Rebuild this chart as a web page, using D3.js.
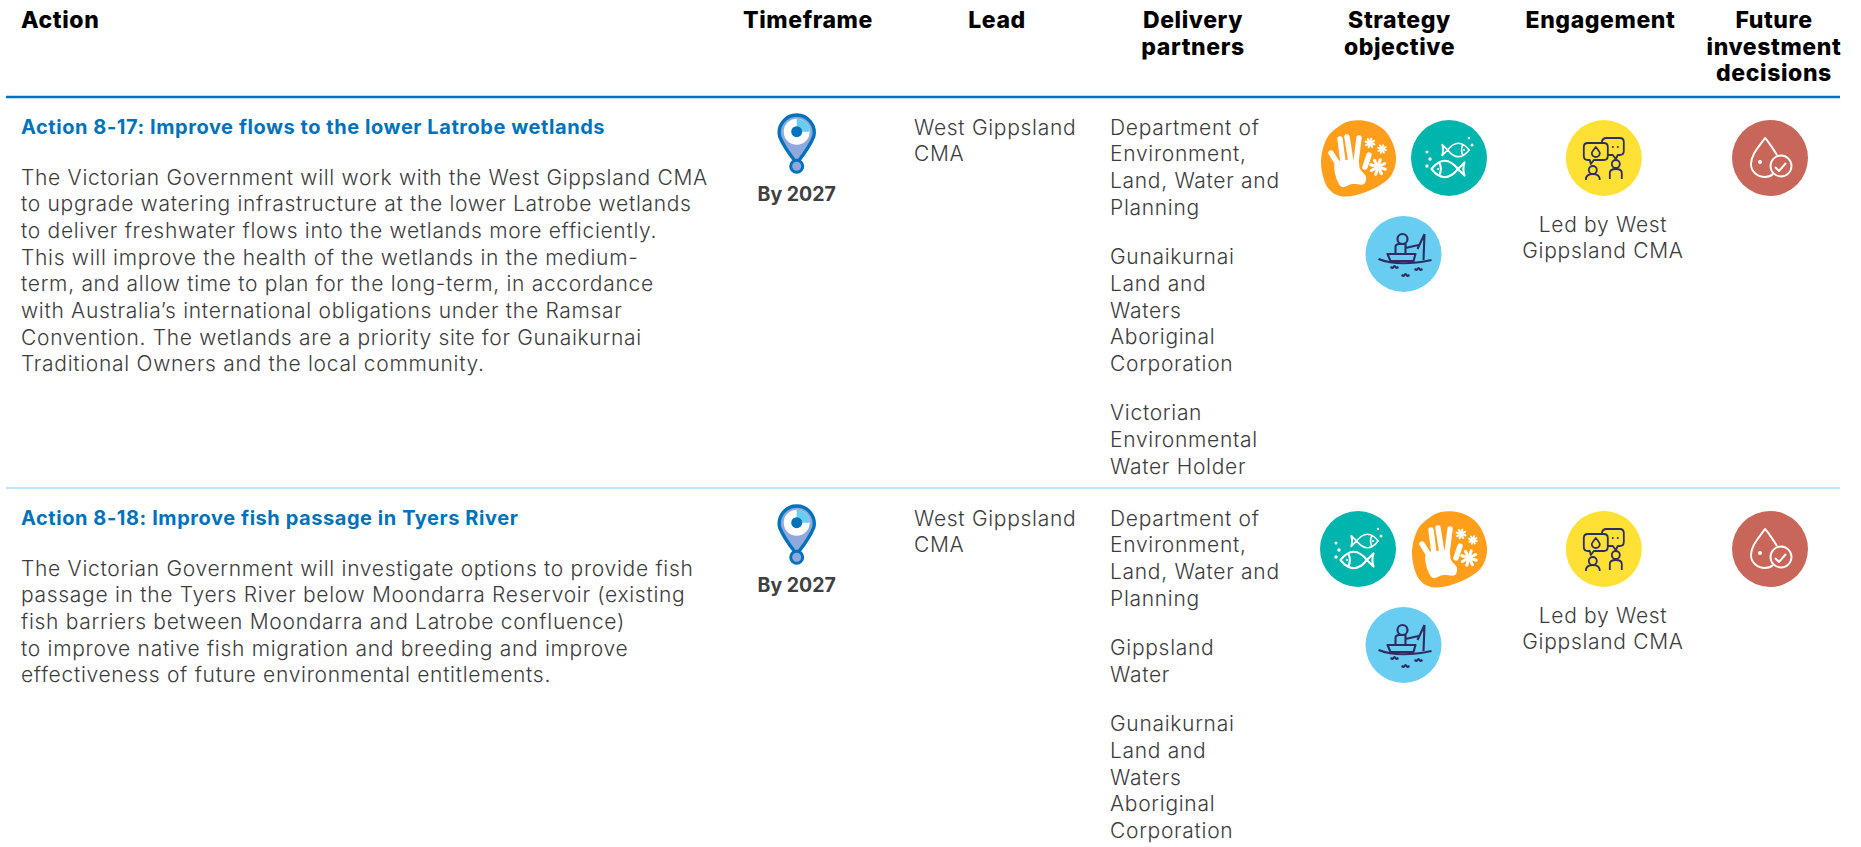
<!DOCTYPE html>
<html>
<head>
<meta charset="utf-8">
<script src="https://cdnjs.cloudflare.com/ajax/libs/d3/7.8.5/d3.min.js"></script>
<style>
	html, body { margin: 0; padding: 0; background: #ffffff; }
	svg { display: block; }
	text { font-family: Inter, "Open Sans", sans-serif; }
	.head { font-size: 23px; font-weight: 800; fill: #000000; letter-spacing: 0.6px; }
	.title { font-size: 20px; font-weight: 700; fill: #0072bc; letter-spacing: 0.56px; }
	.body { font-size: 21px; font-weight: 300; fill: #3c3c3c; letter-spacing: 0.7px; }
	.when { font-size: 19.5px; font-weight: 700; fill: #404040; }
</style>
</head>
<body>
<div id="svg-wrapper"></div>
<script>
var columns = [ 'Action', 'Timeframe', 'Lead', 'Delivery partners', 'Strategy objective', 'Engagement', 'Future investment decisions' ];

var headLabels = [
	[ 'Action' ],
	[ 'Timeframe' ],
	[ 'Lead' ],
	[ 'Delivery', 'partners' ],
	[ 'Strategy', 'objective' ],
	[ 'Engagement' ],
	[ 'Future', 'investment', 'decisions' ]
];

var rowIds = [ 'Action 8-17', 'Action 8-18' ];

var titles = [
	'Action 8-17: Improve flows to the lower Latrobe wetlands',
	'Action 8-18: Improve fish passage in Tyers River'
];

var descriptions = [
	[
		'The Victorian Government will work with the West Gippsland CMA',
		'to upgrade watering infrastructure at the lower Latrobe wetlands',
		'to deliver freshwater flows into the wetlands more efficiently.',
		'This will improve the health of the wetlands in the medium-',
		'term, and allow time to plan for the long-term, in accordance',
		'with Australia\u2019s international obligations under the Ramsar',
		'Convention. The wetlands are a priority site for Gunaikurnai',
		'Traditional Owners and the local community.'
	],
	[
		'The Victorian Government will investigate options to provide fish',
		'passage in the Tyers River below Moondarra Reservoir (existing',
		'fish barriers between Moondarra and Latrobe confluence)',
		'to improve native fish migration and breeding and improve',
		'effectiveness of future environmental entitlements.'
	]
];

var timeframes = [ 'By 2027', 'By 2027' ];

var leads = [ [ 'West Gippsland', 'CMA' ], [ 'West Gippsland', 'CMA' ] ];

var partners = [
	[
		[ 'Department of', 'Environment,', 'Land, Water and', 'Planning' ],
		[ 'Gunaikurnai', 'Land and', 'Waters', 'Aboriginal', 'Corporation' ],
		[ 'Victorian', 'Environmental', 'Water Holder' ]
	],
	[
		[ 'Department of', 'Environment,', 'Land, Water and', 'Planning' ],
		[ 'Gippsland', 'Water' ],
		[ 'Gunaikurnai', 'Land and', 'Waters', 'Aboriginal', 'Corporation' ]
	]
];

var objectives = [ [ 'hand', 'fish', 'boat' ], [ 'fish', 'hand', 'boat' ] ];

var engagement = [ [ 'Led by West', 'Gippsland CMA' ], [ 'Led by West', 'Gippsland CMA' ] ];

var sizes = { width: 1861, height: 847 };
var lineHeight = 26.67;
var paraGap = 22.9;
var iconR = 38;
var navy = '#2e2d62';

// columns and rows
var colLeft = d3.scaleOrdinal( columns, [ 21, 21, 914, 1110, 1330, 1500, 1700 ] );
var colMid = d3.scaleOrdinal( columns, [ 21, 808, 997, 1193, 1399.5, 1600.5, 1774 ] );
var rowTop = d3.scaleOrdinal( rowIds, [ 97, 488 ] );
var lineY = d3.scaleLinear().domain( [ 0, 1 ] ).range( [ 0, lineHeight ] );

var els = {};

els.svg = d3.select( '#svg-wrapper' ).append( 'svg' )
	.attr( 'width', sizes.width )
	.attr( 'height', sizes.height );

var addLines = function ( parent, lines, x, y, cls, anchor ) {
	parent.selectAll( null )
		.data( lines )
		.enter()
		.append( 'text' )
		.attr( 'class', cls )
		.attr( 'x', x )
		.attr( 'y', function ( d, i ) { return y + lineY( i ); } )
		.attr( 'text-anchor', anchor || 'start' )
		.text( function ( d ) { return d; } );
};

// header
columns.forEach( function ( col, i ) {
	addLines( els.svg, headLabels[i], colMid( col ), 28, 'head', i === 0 ? 'start' : 'middle' );
} );

// rules
var rule = function ( y, color, w ) {
	els.svg.append( 'line' )
		.attr( 'x1', 6 )
		.attr( 'x2', 1840 )
		.attr( 'y1', y )
		.attr( 'y2', y )
		.style( 'stroke', color )
		.style( 'stroke-width', w );
};

rule( rowTop( rowIds[0] ), '#0072bc', 2.5 );
rule( rowTop( rowIds[1] ), '#a5dff5', 1.5 );

// icons, drawn around their own centre
var blob = d3.line().curve( d3.curveCatmullRomClosed );

var icons = {};

icons.hand = function ( g ) {
	g.append( 'path' )
		.attr( 'd', blob( [ [-8,-37], [12,-36], [29,-25], [38,-1], [32,19], [5,35], [-18,38], [-30,30], [-37,5], [-31,-20], [-20,-31] ] ) )
		.style( 'fill', '#ff9e1b' );
	g.append( 'path' )
		.attr( 'd', blob( [ [-23,5], [-13,2], [0,3], [2,11], [8,19], [6,26], [-6,26], [-16,29], [-21,22] ] ) )
		.style( 'fill', '#ffffff' );
	[ [-20,6,-27,-5], [-15,4,-18,-19], [-7,4,-11,-21], [-2,4,1,-20], [7,9,11,-3] ].forEach( function ( f ) {
		g.append( 'line' )
			.attr( 'x1', f[0] ).attr( 'y1', f[1] ).attr( 'x2', f[2] ).attr( 'y2', f[3] )
			.style( 'stroke', '#ffffff' ).style( 'stroke-width', 5.4 ).style( 'stroke-linecap', 'round' );
	} );
	[ [12,-15,4.5], [24,-9,4], [20,9,7.5] ].forEach( function ( s ) {
		d3.range( 4 ).forEach( function ( k ) {
			var a = k * Math.PI / 4 + 0.3;
			g.append( 'line' )
				.attr( 'x1', s[0] - s[2] * Math.cos( a ) ).attr( 'y1', s[1] - s[2] * Math.sin( a ) )
				.attr( 'x2', s[0] + s[2] * Math.cos( a ) ).attr( 'y2', s[1] + s[2] * Math.sin( a ) )
				.style( 'stroke', '#ffffff' ).style( 'stroke-width', s[2] / 3 + 0.6 ).style( 'stroke-linecap', 'round' );
		} );
	} );
};

var fishShape = 'M-12,0 Q0,-15 12,0 Q0,15 -12,0 M-12,0 L-18,-6 Q-16,0 -18,6 Z M5,-6 Q2,0 5,6';

icons.fish = function ( g ) {
	g.append( 'circle' ).attr( 'r', iconR ).style( 'fill', '#00b5ad' );
	[ 'translate(9.4,-8) scale(0.9)', 'translate(-4.3,11) scale(-1.1,1.1)' ].forEach( function ( t ) {
		g.append( 'path' )
			.attr( 'd', fishShape )
			.attr( 'transform', t )
			.style( 'fill', 'none' ).style( 'stroke', '#ffffff' ).style( 'stroke-width', 1.9 ).style( 'stroke-linejoin', 'round' );
	} );
	[ [-22,-6,1.5], [-19,1,1.7], [-22,8,1.7], [20,-20,1.2], [23,-13,1.5], [15,-8,1], [-11,11,1] ].forEach( function ( b ) {
		g.append( 'circle' ).attr( 'cx', b[0] ).attr( 'cy', b[1] ).attr( 'r', b[2] ).style( 'fill', '#ffffff' );
	} );
};

icons.boat = function ( g ) {
	g.append( 'circle' ).attr( 'r', iconR ).style( 'fill', '#69cdf2' );
	g.append( 'circle' ).attr( 'cx', -1 ).attr( 'cy', -15 ).attr( 'r', 5 )
		.style( 'fill', 'none' ).style( 'stroke', navy ).style( 'stroke-width', 2.2 );
	g.append( 'path' )
		.attr( 'd', 'M-6,-10 H-1 M-8,0 V-7 Q-8,-10 -4,-10 H2 V0 M2,-6 L15,-9 M21,-20 L14,-5 M21,-20 L20,6 M-16,0 H12 L10,7 H-13 Z M-25,5 Q-5,13 28,6 M-13,13 l2,1 l2,-2 l2,2 l2,-1 M-2,21 l2,1 l2,-2 l2,2 l2,-1 M11,15 l2,1 l2,-2 l2,2 l2,-1' )
		.style( 'fill', 'none' ).style( 'stroke', navy ).style( 'stroke-width', 2.1 ).style( 'stroke-linejoin', 'round' );
};

icons.talk = function ( g ) {
	g.append( 'circle' ).attr( 'r', iconR ).style( 'fill', '#ffe135' );
	g.append( 'path' )
		.attr( 'd', 'M-16,-15 H0 Q4,-15 4,-11 V-2 Q4,2 0,2 H-10 L-13,6 L-14,2 H-16 Q-20,2 -20,-2 V-11 Q-20,-15 -16,-15 Z M-2,-15 V-15 Q-2,-20 3,-20 H16 Q20,-20 20,-16 V-7 Q20,-3 16,-3 H14 L12,1 L9,-3 H4 M-8,-11 Q-12,-6 -12,-5 A4,4 0 0 0 -4,-5 Q-4,-6 -8,-11 Z M-18,22 Q-18,16 -11,16 Q-4,16 -4,22 M6,21 V15 Q6,11 12,11 Q18,11 18,15 V21' )
		.style( 'fill', 'none' ).style( 'stroke', navy ).style( 'stroke-width', 1.8 ).style( 'stroke-linejoin', 'round' );
	[ [-11,12,4], [12,6,4] ].forEach( function ( h ) {
		g.append( 'circle' ).attr( 'cx', h[0] ).attr( 'cy', h[1] ).attr( 'r', h[2] )
			.style( 'fill', 'none' ).style( 'stroke', navy ).style( 'stroke-width', 1.8 );
	} );
	[ [9,-11], [14,-11] ].forEach( function ( p ) {
		g.append( 'circle' ).attr( 'cx', p[0] ).attr( 'cy', p[1] ).attr( 'r', 1 ).style( 'fill', navy );
	} );
};

icons.drop = function ( g ) {
	g.append( 'circle' ).attr( 'r', iconR ).style( 'fill', '#c8665a' );
	g.append( 'path' )
		.attr( 'd', 'M7,-3 C3,-9 -1,-16 -5,-20 C-12,-10 -19,-3 -19,6 C-19,14 -12,19 -5,19 C-2,19 1,18 3,16 M5,9 L9,13 L16,5' )
		.style( 'fill', 'none' ).style( 'stroke', '#ffffff' ).style( 'stroke-width', 1.9 ).style( 'stroke-linejoin', 'round' );
	g.append( 'circle' ).attr( 'cx', 11 ).attr( 'cy', 8 ).attr( 'r', 10.5 )
		.style( 'fill', 'none' ).style( 'stroke', '#ffffff' ).style( 'stroke-width', 1.9 );
	g.append( 'circle' ).attr( 'cx', -10 ).attr( 'cy', 4 ).attr( 'r', 2 ).style( 'fill', '#ffffff' );
};

var addIcon = function ( parent, name, x, y ) {
	var g = parent.append( 'g' ).attr( 'transform', 'translate(' + x + ',' + y + ')' );
	icons[name]( g );
};

var addPin = function ( parent, x, y ) {
	var g = parent.append( 'g' ).attr( 'transform', 'translate(' + x + ',' + y + ')' );
	var arc = d3.arc();
	g.append( 'path' )
		.attr( 'd', 'M-17,5 A17.5,17.5 0 1 1 17,5 Q13,15 2,29 H-2 Q-13,15 -17,5 Z' )
		.style( 'fill', '#8fa9dc' ).style( 'stroke', '#0072bc' ).style( 'stroke-width', 3.4 ).style( 'stroke-linejoin', 'round' );
	g.append( 'circle' ).attr( 'r', 13 ).style( 'fill', '#ffffff' );
	g.append( 'path' )
		.attr( 'd', arc( { innerRadius: 0, outerRadius: 13, startAngle: 0, endAngle: Math.PI / 2 } ) )
		.style( 'fill', '#69cdf2' );
	g.append( 'circle' ).attr( 'r', 5.5 ).style( 'fill', '#0072bc' );
	g.append( 'circle' ).attr( 'cy', 34.5 ).attr( 'r', 6 )
		.style( 'fill', '#8fa9dc' ).style( 'stroke', '#0072bc' ).style( 'stroke-width', 3 );
};

// rows
rowIds.forEach( function ( id, r ) {
	var top = rowTop( id );
	var g = els.svg.append( 'g' ).attr( 'transform', 'translate(0,' + top + ')' );

	addLines( g, [ titles[r] ], colLeft( 'Action' ), 37, 'title' );
	addLines( g, descriptions[r], colLeft( 'Action' ), 87.6, 'body' );

	addPin( g, 796.7, 34.7 );
	addLines( g, [ timeframes[r] ], 796.7, 103.5, 'when', 'middle' );

	addLines( g, leads[r], colLeft( 'Lead' ), 37.6, 'body' );

	var y = 37.6;
	partners[r].forEach( function ( para ) {
		addLines( g, para, colLeft( 'Delivery partners' ), y, 'body' );
		y += lineY( para.length ) + paraGap;
	} );

	addIcon( g, objectives[r][0], 1358, 61 );
	addIcon( g, objectives[r][1], 1449, 61 );
	addIcon( g, objectives[r][2], 1403.5, 157 );

	addIcon( g, 'talk', 1603.8, 61 );
	addLines( g, engagement[r], 1603, 134.5, 'body', 'middle' );

	addIcon( g, 'drop', 1770, 61 );
} );
</script>
</body>
</html>
